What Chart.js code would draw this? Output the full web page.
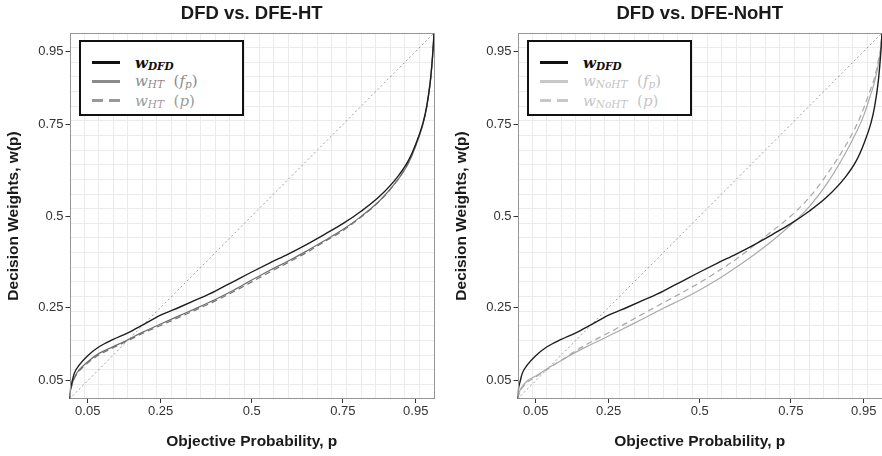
<!DOCTYPE html>
<html>
<head>
<meta charset="utf-8">
<script src="https://cdn.jsdelivr.net/npm/chart.js@4.4.1/dist/chart.umd.min.js"></script>
<style>
  html, body { margin: 0; padding: 0; background: #fff; overflow: hidden; }
  body { width: 882px; height: 456px; position: relative; }
  .panel { position: absolute; top: 0; width: 441px; height: 456px; }
  #panelHT { left: 0; }
  #panelNoHT { left: 448px; }
  .legend { position: absolute; width: 165px; height: 76px; box-sizing: border-box;
            border: 2px solid #111; background: #fff;
            font-family: "DejaVu Serif", "Liberation Serif", serif; font-size: 15px; }
  .legend .row { position: absolute; left: 0; width: 100%; height: 18px; }
  .legend .swatch { position: absolute; left: 11.5px; top: 7.5px; width: 28px; height: 3px; }
  .legend .lbl { position: absolute; left: 54.5px; top: 0; line-height: 18px; white-space: nowrap; }
  .legend i { font-style: italic; }
  .legend sub { font-size: 10.5px; font-style: italic; position: relative; top: 2px; vertical-align: baseline; }
</style>
</head>
<body>
<div class="panel" id="panelHT">
  <canvas id="chartHT" width="441" height="456"></canvas>
  <div class="legend" id="legendHT"></div>
</div>
<div class="panel" id="panelNoHT">
  <canvas id="chartNoHT" width="441" height="456"></canvas>
  <div class="legend" id="legendNoHT"></div>
</div>
<script>
// valores (p objetiva -> peso de decisão)
const probs    = [0, 0.003, 0.007, 0.013, 0.027, 0.05, 0.08, 0.12, 0.16, 0.2, 0.25, 0.3, 0.35, 0.4, 0.45, 0.5, 0.55, 0.6, 0.65, 0.7, 0.75, 0.8, 0.85, 0.9, 0.93, 0.95, 0.97, 0.98, 0.99, 0.997, 1];
const wDFD     = [0, 0.03, 0.047, 0.07, 0.093, 0.118, 0.142, 0.163, 0.181, 0.202, 0.229, 0.25, 0.272, 0.295, 0.321, 0.347, 0.372, 0.396, 0.422, 0.45, 0.479, 0.513, 0.553, 0.607, 0.652, 0.697, 0.755, 0.8, 0.87, 0.95, 1];
const wHTfp    = [0, 0.025, 0.04, 0.058, 0.08, 0.102, 0.124, 0.143, 0.162, 0.182, 0.205, 0.227, 0.249, 0.272, 0.297, 0.325, 0.352, 0.377, 0.404, 0.433, 0.463, 0.499, 0.541, 0.598, 0.645, 0.692, 0.752, 0.797, 0.867, 0.948, 1];
const wHTp     = [0, 0.023, 0.038, 0.055, 0.077, 0.098, 0.12, 0.14, 0.159, 0.179, 0.201, 0.223, 0.245, 0.268, 0.293, 0.32, 0.347, 0.373, 0.4, 0.43, 0.46, 0.497, 0.54, 0.598, 0.646, 0.693, 0.753, 0.798, 0.868, 0.948, 1];
const wNoHTfp  = [0, 0.012, 0.024, 0.034, 0.05, 0.063, 0.082, 0.105, 0.128, 0.148, 0.172, 0.197, 0.222, 0.248, 0.272, 0.298, 0.327, 0.36, 0.395, 0.433, 0.476, 0.525, 0.59, 0.672, 0.73, 0.775, 0.835, 0.868, 0.915, 0.96, 1];
const wNoHTp   = [0, 0.01, 0.02, 0.03, 0.046, 0.06, 0.08, 0.106, 0.132, 0.155, 0.181, 0.208, 0.236, 0.263, 0.29, 0.318, 0.349, 0.382, 0.42, 0.46, 0.5, 0.55, 0.615, 0.692, 0.748, 0.795, 0.85, 0.88, 0.925, 0.965, 1];
const diagonal = [0, 1];

const tickValues = [0.05, 0.25, 0.5, 0.75, 0.95];
const tickLabels = ['0.05', '0.25', '0.5', '0.75', '0.95'];
const gridCount = 25; // linhas de grade finas

const legendHT   = ['<b><i>w</i><sub>DFD</sub></b>', '<i>w</i><sub>HT</sub>&nbsp;&nbsp;(<i>f</i><sub>p</sub>)', '<i>w</i><sub>HT</sub>&nbsp;&nbsp;(<i>p</i>)'];
const legendNoHT = ['<b><i>w</i><sub>DFD</sub></b>', '<i>w</i><sub>NoHT</sub>&nbsp;&nbsp;(<i>f</i><sub>p</sub>)', '<i>w</i><sub>NoHT</sub>&nbsp;&nbsp;(<i>p</i>)'];

Chart.defaults.font.family = '"Liberation Sans", Arial, sans-serif';
Chart.defaults.animation = false;

function toPoints(xs, ys) { return xs.map((p, i) => ({x: p, y: ys[i]})); }

function isLabelTick(v) { return tickValues.some(t => Math.abs(t - v) < 1e-6); }
function labelFor(v) {
    const i = tickValues.findIndex(t => Math.abs(t - v) < 1e-6);
    return i < 0 ? '' : tickLabels[i];
}
function allTicks() {
    const vals = [];
    for (let k = 1; k < gridCount; k++) vals.push(k / gridCount);
    return vals.concat(tickValues).sort((a, b) => a - b).map(v => ({value: v}));
}

function eixo(titulo, horizontal) {
    return {
        type: 'linear', min: 0, max: 1,
        afterBuildTicks: s => { s.ticks = allTicks(); },
        afterFit: s => { if (horizontal) s.height = 57; else s.width = 69.5; },
        border: {display: false},
        grid: {
            color: c => (c.tick && isLabelTick(c.tick.value)) ? 'rgba(0,0,0,0)' : '#ebebeb',
            tickColor: c => (c.tick && isLabelTick(c.tick.value)) ? '#333' : 'rgba(0,0,0,0)',
            tickLength: 4, lineWidth: 1
        },
        ticks: {
            autoSkip: false, maxRotation: 0, padding: horizontal ? 1 : 2,
            color: '#333', font: {size: 13},
            callback: v => labelFor(v)
        },
        title: {
            display: true, text: titulo, color: '#1a1a1a',
            font: {size: 15.5, weight: 'bold'},
            padding: horizontal ? {top: 0, bottom: 4.5} : {top: 4.7, bottom: 0}
        }
    };
}

const molduraPlugin = {
    id: 'moldura',
    afterDraw(chart) {
        const {ctx, chartArea: a} = chart;
        ctx.save();
        ctx.strokeStyle = '#959595';
        ctx.lineWidth = 1;
        ctx.strokeRect(Math.round(a.left) + 0.5, Math.round(a.top) + 0.5, Math.round(a.right - a.left) - 1, Math.round(a.bottom - a.top) - 1);
        ctx.restore();
    }
};

const legendaHtml = {
    id: 'legendaHtml',
    afterUpdate(chart, args, opts) {
        const box = document.getElementById(opts.containerID);
        const a = chart.chartArea;
        box.style.left = (a.left + 9) + 'px';
        box.style.top = (a.top + 6.5) + 'px';
        box.innerHTML = '';
        const rowTops = [12, 30.5, 50];
        chart.data.datasets.filter(d => d.legendHtml).forEach((d, i) => {
            const row = document.createElement('div');
            row.className = 'row';
            row.style.top = rowTops[i] + 'px';
            const sw = document.createElement('span');
            sw.className = 'swatch';
            sw.style.background = d.borderDash && d.borderDash.length
                ? `repeating-linear-gradient(90deg, ${d.legendColor} 0 11px, transparent 11px 17px)`
                : d.legendColor;
            const lbl = document.createElement('span');
            lbl.className = 'lbl';
            lbl.style.color = d.legendTextColor;
            lbl.innerHTML = d.legendHtml;
            row.appendChild(sw);
            row.appendChild(lbl);
            box.appendChild(row);
        });
    }
};

function serie(label, ys, cor, largura, tracejado, legenda, corLegenda, corTexto) {
    return {
        label: label,
        data: toPoints(probs, ys),
        borderColor: cor,
        borderWidth: largura,
        borderDash: tracejado,
        pointRadius: 0,
        cubicInterpolationMode: 'monotone',
        fill: false,
        legendHtml: legenda,
        legendColor: corLegenda,
        legendTextColor: corTexto
    };
}

function diagonalDataset() {
    return {
        label: 'diagonal',
        data: toPoints(diagonal, diagonal),
        borderColor: '#858585',
        borderWidth: 0.8,
        borderDash: [2, 2.5],
        pointRadius: 0,
        fill: false
    };
}

function criarGrafico(canvasId, titulo, legendaId, datasets) {
    return new Chart(document.getElementById(canvasId), {
        type: 'line',
        data: {datasets: datasets},
        options: {
            responsive: false,
            layout: {padding: {right: 7}},
            scales: {
                x: eixo('Objective Probability, p', true),
                y: eixo('Decision Weights, w(p)', false)
            },
            plugins: {
                legend: {display: false},
                tooltip: {enabled: false},
                title: {
                    display: true, text: titulo, fullSize: false, color: '#1a1a1a',
                    font: {size: 18.5, weight: 'bold'},
                    padding: {top: 3, bottom: 7.8}
                },
                legendaHtml: {containerID: legendaId}
            }
        },
        plugins: [molduraPlugin, legendaHtml]
    });
}

const graficos = {};

graficos.ht = criarGrafico('chartHT', 'DFD vs. DFE-HT', 'legendHT', [
    serie('w_DFD', wDFD, '#1e1e1e', 1.4, [], legendHT[0], '#111', '#111'),
    serie('w_HT (f_p)', wHTfp, '#6e6e6e', 1.2, [], legendHT[1], '#8a8a8a', '#8c8c8c'),
    serie('w_HT (p)', wHTp, '#747474', 1.2, [6, 4], legendHT[2], '#999', '#9c9c9c'),
    diagonalDataset()
]);

graficos.noht = criarGrafico('chartNoHT', 'DFD vs. DFE-NoHT', 'legendNoHT', [
    serie('w_DFD', wDFD, '#1e1e1e', 1.4, [], legendNoHT[0], '#111', '#111'),
    serie('w_NoHT (f_p)', wNoHTfp, '#ababab', 1.2, [], legendNoHT[1], '#c8c8c8', '#c4c4c4'),
    serie('w_NoHT (p)', wNoHTp, '#a8a8a8', 1.2, [6, 4], legendNoHT[2], '#c8c8c8', '#c6c6c6'),
    diagonalDataset()
]);
</script>
</body>
</html>
